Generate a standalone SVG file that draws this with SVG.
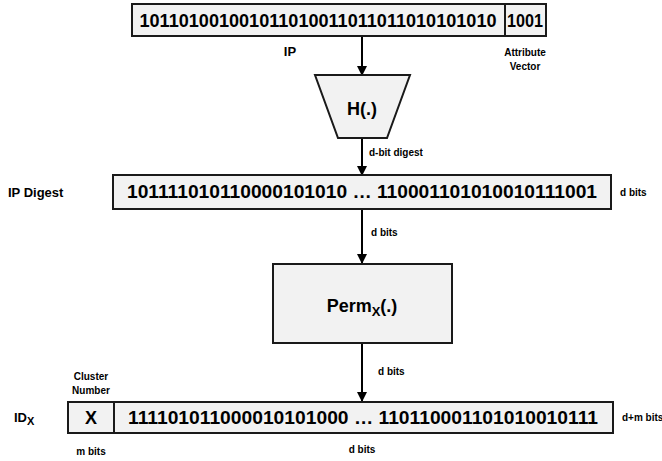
<svg xmlns="http://www.w3.org/2000/svg" width="662" height="461" viewBox="0 0 662 461">
<defs>
<marker id="arr" markerWidth="10" markerHeight="10" refX="9" refY="5" orient="auto" markerUnits="userSpaceOnUse">
<path d="M0,0 L10,5 L0,10 z" fill="#000"/>
</marker>
<style>
.box{fill:#f2f2f2;stroke:#1a1a1a;stroke-width:2}
.big{font-family:"Liberation Sans",Arial,sans-serif;font-weight:bold;font-size:18px;fill:#000;text-anchor:middle}
.lbl{font-family:"Liberation Sans",Arial,sans-serif;font-weight:bold;font-size:13px;fill:#000}
.sm{font-family:"Liberation Sans",Arial,sans-serif;font-weight:bold;font-size:10px;fill:#000}
.edge{stroke:#000;stroke-width:2;fill:none;marker-end:url(#arr)}
</style>
</defs>
<g id="connectors">
<line class="edge" x1="362" y1="36" x2="362" y2="75"/>
<line class="edge" x1="362" y1="138" x2="362" y2="175"/>
<line class="edge" x1="362" y1="209" x2="362" y2="263"/>
<line class="edge" x1="362" y1="343" x2="362" y2="401"/>
<text class="sm" x="369" y="156">d-bit digest</text>
<text class="sm" x="371" y="236">d bits</text>
<text class="sm" x="378" y="375">d bits</text>
</g>
<g id="ip">
<rect class="box" x="132" y="4" width="414" height="32"/>
<line x1="505" y1="4" x2="505" y2="36" stroke="#1a1a1a" stroke-width="2"/>
<text class="big" x="318" y="27" textLength="357" lengthAdjust="spacingAndGlyphs">101101001001011010011011011010101010</text>
<text class="big" x="525" y="27" textLength="36" lengthAdjust="spacingAndGlyphs">1001</text>
<text class="lbl" x="290" y="56" text-anchor="middle" font-size="12">IP</text>
<text class="sm" x="525" y="56" text-anchor="middle">Attribute</text>
<text class="sm" x="525" y="70" text-anchor="middle">Vector</text>
</g>
<g id="hash">
<polygon class="box" points="315,75 410,75 387,138 338,138"/>
<text class="big" x="362" y="115" font-size="24">H(.)</text>
</g>
<g id="digest">
<rect class="box" x="113" y="175" width="498" height="34"/>
<text class="big" x="362" y="198" textLength="470" lengthAdjust="spacingAndGlyphs">101111010110000101010 … 110001101010010111001</text>
<text class="lbl" x="8" y="197">IP Digest</text>
<text class="sm" x="620" y="196">d bits</text>
</g>
<g id="perm">
<rect class="box" x="273" y="264" width="179" height="79"/>
<text class="big" x="362" y="312" font-size="19">Perm<tspan font-size="13" dy="4">X</tspan><tspan dy="-4">(.)</tspan></text>
</g>
<g id="idx">
<rect class="box" x="68" y="402" width="545" height="31"/>
<line x1="114" y1="402" x2="114" y2="433" stroke="#1a1a1a" stroke-width="2"/>
<text class="big" x="91" y="424">X</text>
<text class="big" x="363" y="424" textLength="470" lengthAdjust="spacingAndGlyphs">111101011000010101000 … 110110001101010010111</text>
<text class="lbl" x="14" y="422">ID<tspan font-size="11" dy="3">X</tspan></text>
<text class="sm" x="91" y="380" text-anchor="middle">Cluster</text>
<text class="sm" x="91" y="394" text-anchor="middle">Number</text>
<text class="sm" x="91" y="455" text-anchor="middle">m bits</text>
<text class="sm" x="362" y="453" text-anchor="middle">d bits</text>
<text class="sm" x="622" y="421">d+m bits</text>
</g>
</svg>
